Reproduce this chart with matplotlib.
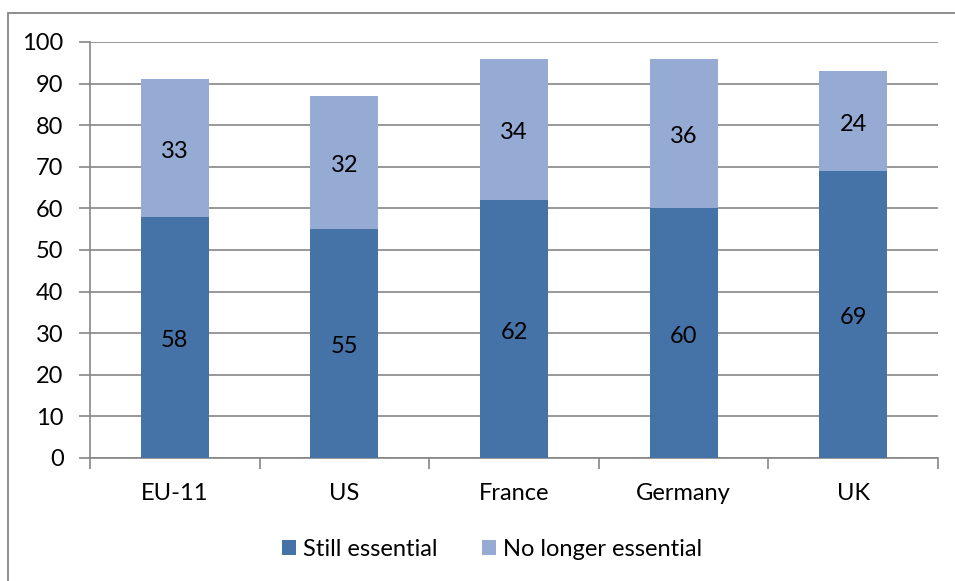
import matplotlib
matplotlib.use("Agg")
import matplotlib.pyplot as plt
import numpy as np
from matplotlib.patches import Rectangle

plt.rcParams['font.family'] = ['Lato', 'DejaVu Sans']

countries = ["EU-11", "US", "France", "Germany", "UK"]
still_essential = [58, 55, 62, 60, 69]
no_longer_essential = [33, 32, 34, 36, 24]

DARK = "#4572A7"
LIGHT = "#95ABD3"
GRID = "#868686"
FS = 17

fig = plt.figure(figsize=(9.55, 5.81), dpi=100)
ax = fig.add_axes([90 / 955, 1 - 458 / 581, 848 / 955, 416 / 581])

# outer chart border (right and bottom edges run off the canvas)
fig.patches.append(Rectangle((8 / 955, -0.05), 1.1, 1 - 13 / 581 + 0.05,
                             transform=fig.transFigure, fill=False,
                             edgecolor=GRID, linewidth=1.3))

x = np.arange(len(countries))
b1 = ax.bar(x, still_essential, width=0.4, color=DARK, label="Still essential", zorder=3)
b2 = ax.bar(x, no_longer_essential, width=0.4, bottom=still_essential, color=LIGHT,
            label="No longer essential", zorder=3)

for bars, vals in [(b1, still_essential), (b2, no_longer_essential)]:
    for rect, v in zip(bars, vals):
        ax.text(rect.get_x() + rect.get_width() / 2, rect.get_y() + v / 2 - 0.8, str(v),
                ha="center", va="center", fontsize=FS, color="black", zorder=4)

ax.set_xlim(-0.5, len(countries) - 0.5)
ax.set_ylim(0, 100)
ax.set_yticks(range(0, 101, 10))
ax.yaxis.grid(True, color=GRID, linewidth=1.2, zorder=0)

ax.set_xticks(x)
ax.set_xticklabels(countries)
ax.set_xticks(np.arange(-0.5, len(countries)), minor=True)
ax.tick_params(axis="x", which="major", length=0, pad=18, labelsize=FS)
ax.tick_params(axis="x", which="minor", length=8, width=1.2, color=GRID)
ax.tick_params(axis="y", length=8, width=1.2, color=GRID, labelsize=FS, pad=11)

for side in ["top", "right"]:
    ax.spines[side].set_visible(False)
for side in ["left", "bottom"]:
    ax.spines[side].set_color(GRID)
    ax.spines[side].set_linewidth(1.2)

fig.legend(handles=[b1, b2], loc="center", bbox_to_anchor=(492 / 955, 1 - 549 / 581),
           ncol=2, frameon=False, fontsize=FS, handlelength=0.6, handleheight=0.6,
           handletextpad=0.3, columnspacing=1.9)

fig.savefig("out.png", dpi=100)
